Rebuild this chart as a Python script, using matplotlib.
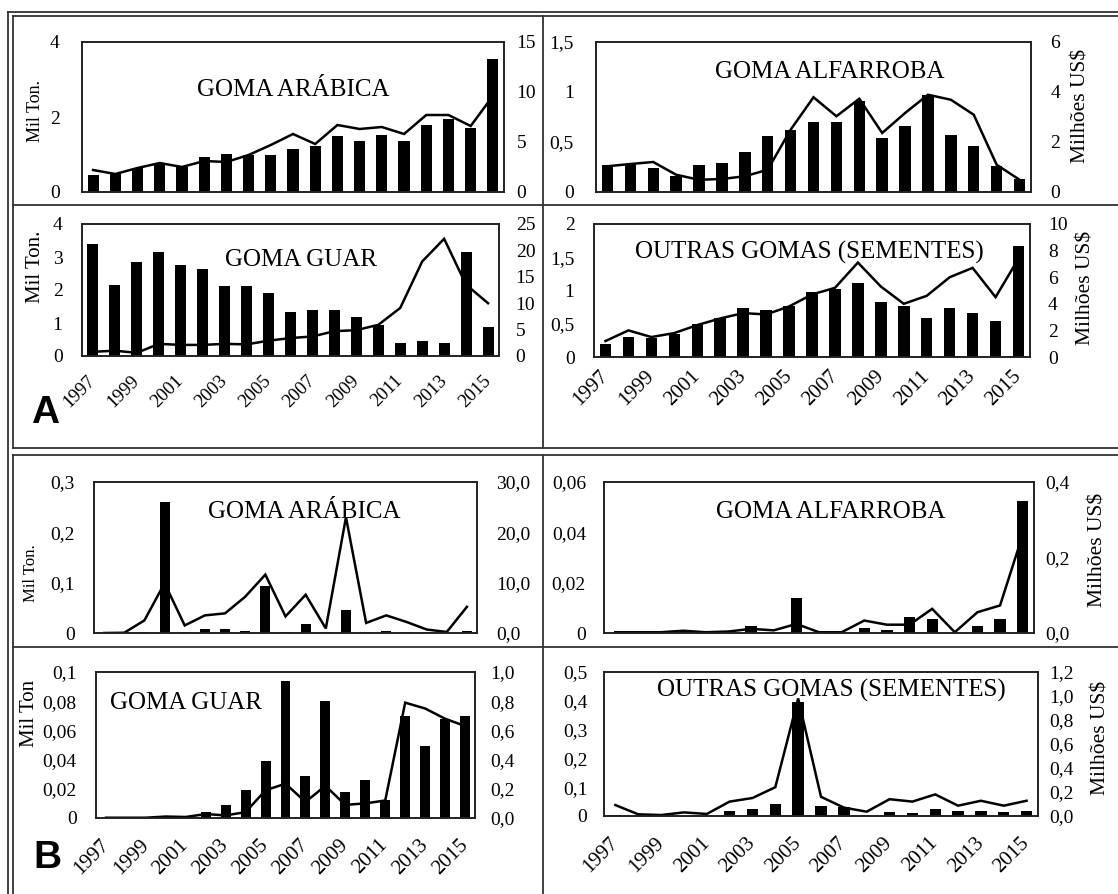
import matplotlib

matplotlib.use("Agg")

import matplotlib.pyplot as plt
import numpy as np
from matplotlib.lines import Line2D

W, H = 1118, 894

years = [str(y) for y in range(1997, 2016)]

# A - top block (Mil Ton. bars, Milhoes US$ line)
a_arabica_ton = [0.46, 0.50, 0.64, 0.76, 0.68, 0.93, 1.01, 0.98, 0.98, 1.15,
                 1.22, 1.50, 1.35, 1.53, 1.35, 1.80, 1.95, 1.72, 3.55]
a_arabica_usd = [2.2, 1.8, 2.4, 2.9, 2.5, 3.1, 3.0, 3.7, 4.7, 5.8,
                 4.8, 6.7, 6.3, 6.5, 5.8, 7.7, 7.7, 6.6, 9.6]
a_alfarroba_ton = [0.27, 0.28, 0.24, 0.16, 0.27, 0.29, 0.40, 0.56, 0.62, 0.70,
                   0.70, 0.91, 0.54, 0.66, 0.97, 0.57, 0.46, 0.26, 0.13]
a_alfarroba_usd = [1.03, 1.12, 1.20, 0.69, 0.49, 0.52, 0.63, 0.89, 2.49, 3.79,
                   3.03, 3.73, 2.36, 3.16, 3.89, 3.69, 3.09, 1.09, 0.49]
a_guar_ton = [3.39, 2.16, 2.84, 3.15, 2.76, 2.64, 2.13, 2.13, 1.92, 1.33,
              1.40, 1.40, 1.19, 0.94, 0.40, 0.44, 0.38, 3.15, 0.87]
a_guar_usd = [0.8, 1.0, 0.6, 2.3, 2.1, 2.1, 2.3, 2.2, 2.9, 3.4,
              3.7, 4.7, 4.9, 5.9, 9.1, 17.9, 22.2, 13.5, 10.0]
a_outras_ton = [0.20, 0.30, 0.29, 0.35, 0.50, 0.58, 0.74, 0.70, 0.77, 0.98,
                1.03, 1.12, 0.83, 0.76, 0.58, 0.74, 0.66, 0.54, 1.67]
a_outras_usd = [1.2, 2.0, 1.5, 1.8, 2.4, 2.9, 3.3, 3.2, 3.8, 4.7,
                5.2, 7.1, 5.3, 4.0, 4.6, 6.0, 6.7, 4.5, 7.4]

# B - bottom block
b_arabica_ton = [0.0, 0.0, 0.002, 0.26, 0.002, 0.007, 0.008, 0.003, 0.094, 0.002,
                 0.017, 0.002, 0.046, 0.002, 0.004, 0.002, 0.001, 0.0, 0.004]
b_arabica_usd = [0.0, 0.05, 2.5, 9.9, 1.5, 3.5, 3.9, 7.2, 11.6, 3.3,
                 7.6, 0.9, 23.0, 2.0, 3.5, 2.2, 0.7, 0.2, 5.2]
b_alfarroba_ton = [0.0, 0.0, 0.0, 0.0005, 0.0, 0.0, 0.0026, 0.0, 0.0139, 0.0,
                   0.0, 0.002, 0.0013, 0.0064, 0.0057, 0.0, 0.0029, 0.0057, 0.0523]
b_alfarroba_usd = [0.002, 0.002, 0.002, 0.006, 0.002, 0.004, 0.011, 0.007, 0.024, 0.002,
                   0.002, 0.033, 0.022, 0.022, 0.064, 0.002, 0.055, 0.073, 0.26]
b_guar_ton = [0.0, 0.0, 0.0, 0.0, 0.0005, 0.004, 0.009, 0.019, 0.039, 0.094,
              0.029, 0.080, 0.018, 0.026, 0.0125, 0.070, 0.049, 0.068, 0.070]
b_guar_usd = [0.002, 0.002, 0.002, 0.010, 0.007, 0.027, 0.018, 0.040, 0.19, 0.235,
              0.11, 0.22, 0.09, 0.10, 0.12, 0.79, 0.75, 0.68, 0.63]
b_outras_ton = [0.003, 0.0, 0.0, 0.001, 0.0, 0.018, 0.024, 0.042, 0.396, 0.036,
                0.030, 0.002, 0.013, 0.012, 0.024, 0.018, 0.018, 0.013, 0.018]
b_outras_usd = [0.091, 0.014, 0.008, 0.030, 0.017, 0.12, 0.15, 0.24, 0.98, 0.16,
                0.07, 0.036, 0.14, 0.12, 0.18, 0.086, 0.127, 0.086, 0.127]

# axis ticks
ticks_a1_l, labels_a1_l = [0, 2, 4], ["0", "2", "4"]
ticks_a1_r, labels_a1_r = [0, 5, 10, 15], ["0", "5", "10", "15"]
ticks_a2_l, labels_a2_l = [0, 0.5, 1, 1.5], ["0", "0,5", "1", "1,5"]
ticks_a2_r, labels_a2_r = [0, 2, 4, 6], ["0", "2", "4", "6"]
ticks_a3_l, labels_a3_l = [0, 1, 2, 3, 4], ["0", "1", "2", "3", "4"]
ticks_a3_r, labels_a3_r = [0, 5, 10, 15, 20, 25], ["0", "5", "10", "15", "20", "25"]
ticks_a4_l, labels_a4_l = [0, 0.5, 1, 1.5, 2], ["0", "0,5", "1", "1,5", "2"]
ticks_a4_r, labels_a4_r = [0, 2, 4, 6, 8, 10], ["0", "2", "4", "6", "8", "10"]
ticks_b1_l, labels_b1_l = [0, 0.1, 0.2, 0.3], ["0", "0,1", "0,2", "0,3"]
ticks_b1_r, labels_b1_r = [0, 10, 20, 30], ["0,0", "10,0", "20,0", "30,0"]
ticks_b2_l, labels_b2_l = [0, 0.02, 0.04, 0.06], ["0", "0,02", "0,04", "0,06"]
ticks_b2_r, labels_b2_r = [0, 0.2, 0.4], ["0,0", "0,2", "0,4"]
ticks_b3_l, labels_b3_l = [0, 0.02, 0.04, 0.06, 0.08, 0.1], ["0", "0,02", "0,04", "0,06", "0,08", "0,1"]
ticks_b3_r, labels_b3_r = [0, 0.2, 0.4, 0.6, 0.8, 1.0], ["0,0", "0,2", "0,4", "0,6", "0,8", "1,0"]
ticks_b4_l, labels_b4_l = [0, 0.1, 0.2, 0.3, 0.4, 0.5], ["0", "0,1", "0,2", "0,3", "0,4", "0,5"]
ticks_b4_r, labels_b4_r = [0, 0.2, 0.4, 0.6, 0.8, 1.0, 1.2], ["0,0", "0,2", "0,4", "0,6", "0,8", "1,0", "1,2"]

plt.rcParams["font.family"] = "Liberation Serif"

fig = plt.figure(figsize=(W / 100, H / 100), dpi=100)


def fxy(x, y):
    return x / W, 1 - y / H


def draw_panel(box, ton, usd, lt, ll, rt, rl, title, title_xy,
               lpad=14, rpad=12, year_size=None, year_pad=16):
    left, top, right, bottom = box
    ax = fig.add_axes([left / W, 1 - bottom / H, (right - left) / W, (bottom - top) / H])
    x = np.arange(len(years))
    ax.bar(x, ton, width=0.5, color="black", zorder=2)
    ax.set_xlim(-0.5, len(years) - 0.5)
    ax.set_ylim(lt[0], lt[-1])
    ax.set_yticks(lt, ll)
    ax.tick_params(axis="y", length=0, labelsize=14, pad=lpad)

    ax2 = ax.twinx()
    ax2.plot(x, usd, color="black", lw=1.8, solid_joinstyle="miter")
    ax2.set_ylim(rt[0], rt[-1])
    ax2.set_yticks(rt, rl)
    ax2.tick_params(axis="y", length=0, labelsize=14, pad=rpad)

    if year_size:
        ax.set_xticks(x[::2], years[::2])
        ax.tick_params(axis="x", length=0, labelsize=year_size, pad=year_pad)
        for lab in ax.get_xticklabels():
            lab.set_rotation(45)
            lab.set_ha("right")
            lab.set_va("center")
            lab.set_rotation_mode("anchor")
    else:
        ax.set_xticks([])

    for a in (ax, ax2):
        for s in a.spines.values():
            s.set_linewidth(1.2)
            s.set_color("#222222")
    fig.text(*fxy(*title_xy), title, fontsize=18, ha="center", va="center")
    return ax


draw_panel((82, 42, 504, 192), a_arabica_ton, a_arabica_usd,
           ticks_a1_l, labels_a1_l, ticks_a1_r, labels_a1_r,
           "GOMA ARÁBICA", (293, 90), lpad=16, rpad=9)
draw_panel((596, 42, 1031, 192), a_alfarroba_ton, a_alfarroba_usd,
           ticks_a2_l, labels_a2_l, ticks_a2_r, labels_a2_r,
           "GOMA ALFARROBA", (830, 72), lpad=16, rpad=14)
draw_panel((82, 224, 499, 356), a_guar_ton, a_guar_usd,
           ticks_a3_l, labels_a3_l, ticks_a3_r, labels_a3_r,
           "GOMA GUAR", (301, 260), lpad=14, rpad=12, year_size=13.5, year_pad=16)
draw_panel((594, 224, 1030, 357), a_outras_ton, a_outras_usd,
           ticks_a4_l, labels_a4_l, ticks_a4_r, labels_a4_r,
           "OUTRAS GOMAS (SEMENTES)", (809, 252), lpad=14, rpad=13, year_size=15, year_pad=12)
draw_panel((94, 482, 477, 633), b_arabica_ton, b_arabica_usd,
           ticks_b1_l, labels_b1_l, ticks_b1_r, labels_b1_r,
           "GOMA ARÁBICA", (304, 512), lpad=14, rpad=14)
draw_panel((604, 482, 1034, 633), b_alfarroba_ton, b_alfarroba_usd,
           ticks_b2_l, labels_b2_l, ticks_b2_r, labels_b2_r,
           "GOMA ALFARROBA", (831, 512), lpad=13, rpad=8)
draw_panel((96, 672, 475, 818), b_guar_ton, b_guar_usd,
           ticks_b3_l, labels_b3_l, ticks_b3_r, labels_b3_r,
           "GOMA GUAR", (186, 703), lpad=14, rpad=11, year_size=15, year_pad=17.5)
draw_panel((604, 672, 1038, 816), b_outras_ton, b_outras_usd,
           ticks_b4_l, labels_b4_l, ticks_b4_r, labels_b4_r,
           "OUTRAS GOMAS (SEMENTES)", (831, 690), lpad=12, rpad=8, year_size=15, year_pad=17.5)

# axis titles
for txt, (x, y), size in [("Mil Ton.", (36, 111), 13), ("Mil Ton.", (35, 267), 15),
                          ("Mil Ton.", (31, 573), 12), ("Mil Ton", (29, 713), 15)]:
    fig.text(*fxy(x, y), txt, rotation=90, fontsize=size, ha="center", va="center")
for x, y in [(1081, 106), (1086, 288), (1098, 550), (1101, 738)]:
    fig.text(*fxy(x, y), "Milhões US$", rotation=90, fontsize=15.5, ha="center", va="center")

# block letters
fig.text(*fxy(31, 423), "A", family="Liberation Sans", weight="bold", fontsize=28,
         ha="left", va="baseline")
fig.text(*fxy(33, 868), "B", family="Liberation Sans", weight="bold", fontsize=28,
         ha="left", va="baseline")

# frame lines
frame_color = "#333333"
hlines = [(12, 8, W), (16, 13, W), (205, 13, W), (448, 13, W), (455, 13, W), (647, 13, W)]
vlines = [(8, 12, H), (13, 16, 448), (13, 455, H), (543, 16, 448), (543, 455, H)]
for y, x0, x1 in hlines:
    fig.add_artist(Line2D([x0 / W, x1 / W], [1 - y / H, 1 - y / H],
                          transform=fig.transFigure, color=frame_color, lw=1.3))
for x, y0, y1 in vlines:
    fig.add_artist(Line2D([x / W, x / W], [1 - y0 / H, 1 - y1 / H],
                          transform=fig.transFigure, color=frame_color, lw=1.3))

fig.savefig("out.png", dpi=100)
